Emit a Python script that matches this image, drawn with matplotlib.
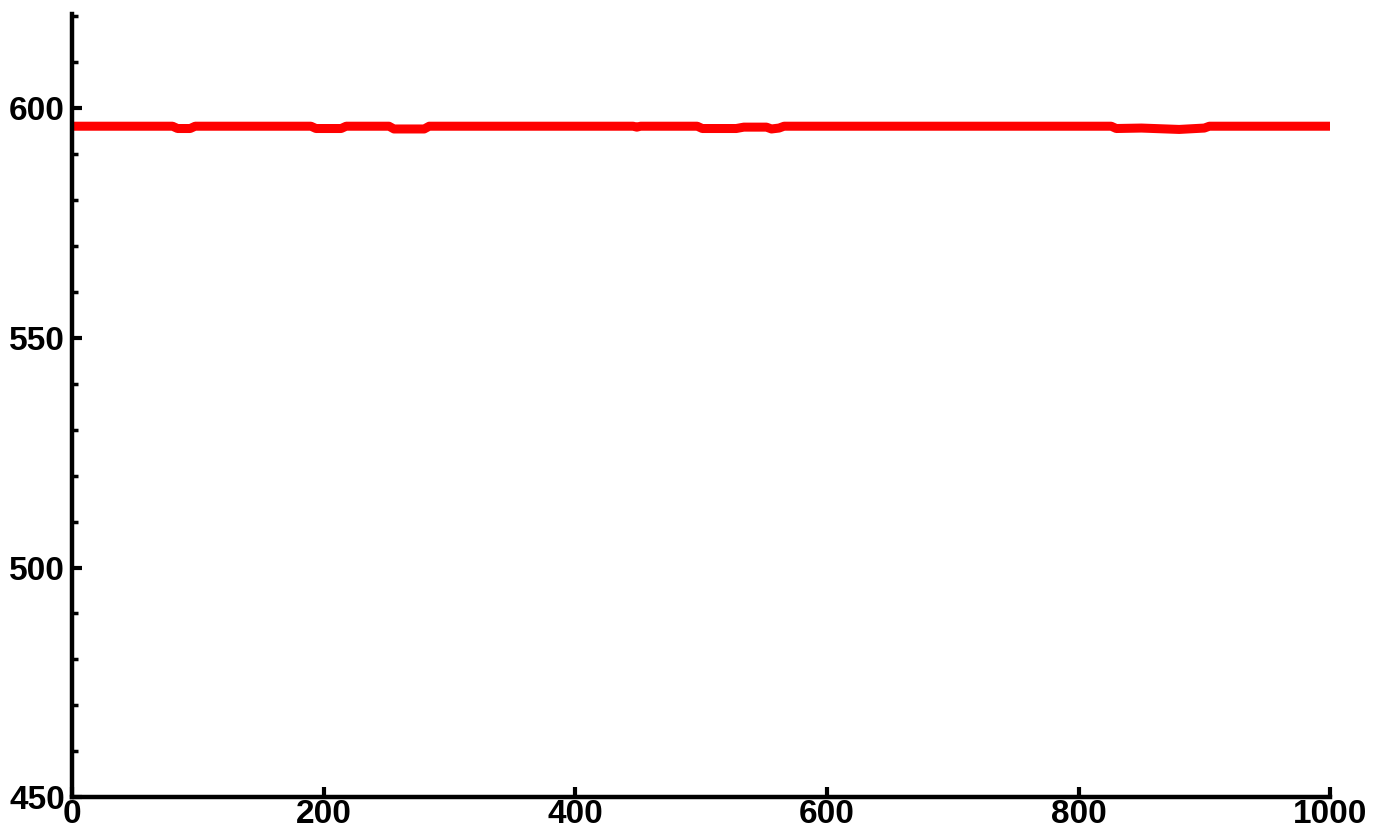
import matplotlib
matplotlib.use('Agg')

import matplotlib.pyplot as plt
from matplotlib.ticker import MultipleLocator


# breakpoints of the trace
x_vals = [0, 80, 84, 94, 98, 190, 194, 214, 218, 252, 256, 280, 284,
          446, 449, 452, 497, 501, 528, 534, 552, 556, 562, 566,
          826, 830, 850, 880, 900, 904, 1000]
y_vals = [596.1, 596.1, 595.6, 595.6, 596.1, 596.1, 595.6, 595.6, 596.1, 596.1, 595.5, 595.5, 596.1,
          596.1, 595.9, 596.1, 596.1, 595.6, 595.6, 595.9, 595.9, 595.5, 595.7, 596.1,
          596.1, 595.6, 595.7, 595.4, 595.7, 596.1, 596.1]

x_ticks = [0, 200, 400, 600, 800, 1000]
y_ticks = [450, 500, 550, 600]

plt.rcParams['font.family'] = ['Liberation Sans', 'DejaVu Sans']

fig = plt.figure(figsize=(13.82, 8.33), dpi=100)
ax = fig.add_axes([0.052, 0.043, 0.9105, 0.940])

ax.plot(x_vals, y_vals, color='#ff0000', linewidth=6.5, solid_capstyle='butt')

ax.set_xlim(0, 1000)
ax.set_ylim(450, 620.5)
ax.set_xticks(x_ticks)
ax.set_yticks(y_ticks)
ax.yaxis.set_minor_locator(MultipleLocator(10))

for side in ['top', 'right']:
    ax.spines[side].set_visible(False)
for side in ['left', 'bottom']:
    ax.spines[side].set_linewidth(3.2)
    ax.spines[side].set_color('black')

ax.tick_params(axis='both', which='major', direction='in', length=7, width=3,
               labelsize=24)
ax.tick_params(axis='y', which='major', pad=5)
ax.tick_params(axis='x', which='major', pad=1)
ax.tick_params(axis='y', which='minor', direction='in', length=4, width=2.5)
for lbl in ax.get_xticklabels() + ax.get_yticklabels():
    lbl.set_fontweight('bold')

fig.savefig('out.png', dpi=100)
